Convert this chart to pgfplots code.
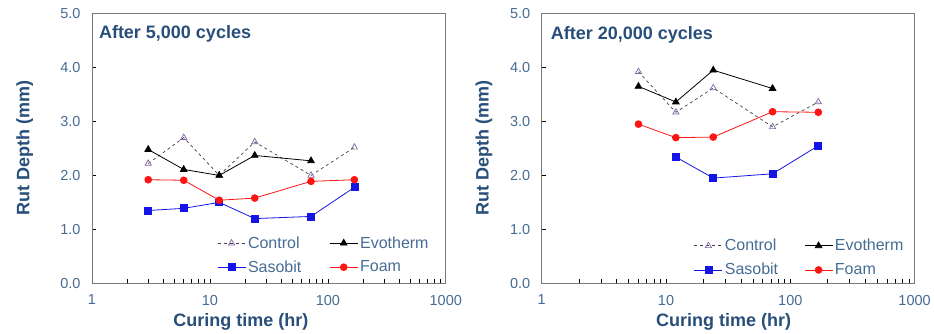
\documentclass[border=0pt]{standalone}
\usepackage{pgfplots}
\pgfplotsset{compat=1.18}
\usepackage{fontspec}
\setmainfont{Liberation Sans}
\definecolor{ttl}{RGB}{40,78,122}
\definecolor{tck}{RGB}{70,108,148}
\definecolor{ctrl}{RGB}{128,100,162}
\definecolor{sas}{RGB}{20,20,230}
\definecolor{foam}{RGB}{255,20,20}
\definecolor{frm}{RGB}{120,120,120}
\pgfplotsset{
  myax/.style={
    scale only axis, height=270pt,
    xmin=1, xmax=1000, ymin=0, ymax=5,
    ytick={0,1,2,3,4,5},
    yticklabel style={/pgf/number format/fixed, /pgf/number format/fixed zerofill, /pgf/number format/precision=1, xshift=-8pt},
    xticklabel style={yshift=-8pt},
    xtick={1,10,100,1000},
    xticklabels={1,10,100,1000},
    ticklabel style={font=\fontsize{14.5}{16}\selectfont, text=tck},
    tick align=inside, xtick pos=bottom, ytick pos=left,
    major tick length=4pt, minor tick length=4pt,
    tick style={black, line width=0.6pt},
    axis line style={frm, line width=0.8pt},
    x axis line style={black},
    label style={font=\fontsize{18}{20}\selectfont\bfseries, text=ttl},
    xlabel={Curing time (hr)},
    ylabel={Rut Depth (mm)},
    legend columns=2,
    legend style={draw=none, fill=none, font=\fontsize{16}{18}\selectfont, text=tck, row sep=7pt},
    legend cell align=left,
    legend image code/.code={\draw[mark repeat=2, mark phase=2] plot coordinates {(0pt,0pt) (14pt,0pt) (28pt,0pt)};},
  },
  ctl/.style={black!75, dashed, line width=0.7pt, mark=triangle, mark size=3.6pt, mark options={solid, ctrl, line width=0.7pt}},
  evo/.style={black, line width=0.8pt, mark=triangle*, mark size=3.8pt, mark options={solid, black}},
  sb/.style={sas, line width=0.8pt, mark=square*, mark size=3.5pt, mark options={solid, sas}},
  fm/.style={foam, line width=0.8pt, mark=*, mark size=3.4pt, mark options={solid, foam}},
}
\begin{document}
\begin{tikzpicture}
\path (0pt,0pt) rectangle (934pt,334pt);
\begin{semilogxaxis}[myax, /pgf/number format/assume math mode=true, width=354pt, at={(92pt,50.5pt)}, anchor=south west,
  xlabel style={at={(axis description cs:0.421,-0.144)}, anchor=center},
  ylabel style={at={(axis description cs:-0.19,0.5)}, anchor=center},
  legend style={at={(0.345,0.02)}, anchor=south west},
  legend style={/tikz/every even column/.append style={column sep=26pt}}]
\node[anchor=west, font=\fontsize{18}{20}\selectfont\bfseries, text=ttl] at (axis description cs:0.01,0.925) {After 5,000 cycles};
\addplot[ctl] coordinates {(3,2.22) (6,2.70) (12,2.00) (24,2.62) (72,2.00) (168,2.52)};
\addlegendentry{Control}
\addplot[evo] coordinates {(3,2.48) (6,2.11) (12,2.00) (24,2.37) (72,2.27)};
\addlegendentry{Evotherm}
\addplot[sb] coordinates {(3,1.35) (6,1.39) (12,1.50) (24,1.20) (72,1.24) (168,1.78)};
\addlegendentry{Sasobit}
\addplot[fm] coordinates {(3,1.92) (6,1.91) (12,1.54) (24,1.58) (72,1.89) (168,1.92)};
\addlegendentry{Foam}
\end{semilogxaxis}
\begin{semilogxaxis}[myax, /pgf/number format/assume math mode=true, width=373pt, at={(542pt,50.5pt)}, anchor=south west,
  xlabel style={at={(axis description cs:0.488,-0.142)}, anchor=center},
  ylabel style={at={(axis description cs:-0.155,0.5)}, anchor=center},
  legend style={at={(0.40,0.01)}, anchor=south west},
  legend style={/tikz/every even column/.append style={column sep=24pt}}]
\node[anchor=west, font=\fontsize{18}{20}\selectfont\bfseries, text=ttl] at (axis description cs:0.015,0.92) {After 20,000 cycles};
\addplot[ctl] coordinates {(6,3.92) (12,3.17) (24,3.62) (72,2.90) (168,3.36)};
\addlegendentry{Control}
\addplot[evo] coordinates {(6,3.65) (12,3.36) (24,3.95) (72,3.61)};
\addlegendentry{Evotherm}
\addplot[sb] coordinates {(12,2.34) (24,1.95) (72,2.03) (168,2.55)};
\addlegendentry{Sasobit}
\addplot[fm] coordinates {(6,2.95) (12,2.70) (24,2.71) (72,3.18) (168,3.17)};
\addlegendentry{Foam}
\end{semilogxaxis}
\end{tikzpicture}
\end{document}
